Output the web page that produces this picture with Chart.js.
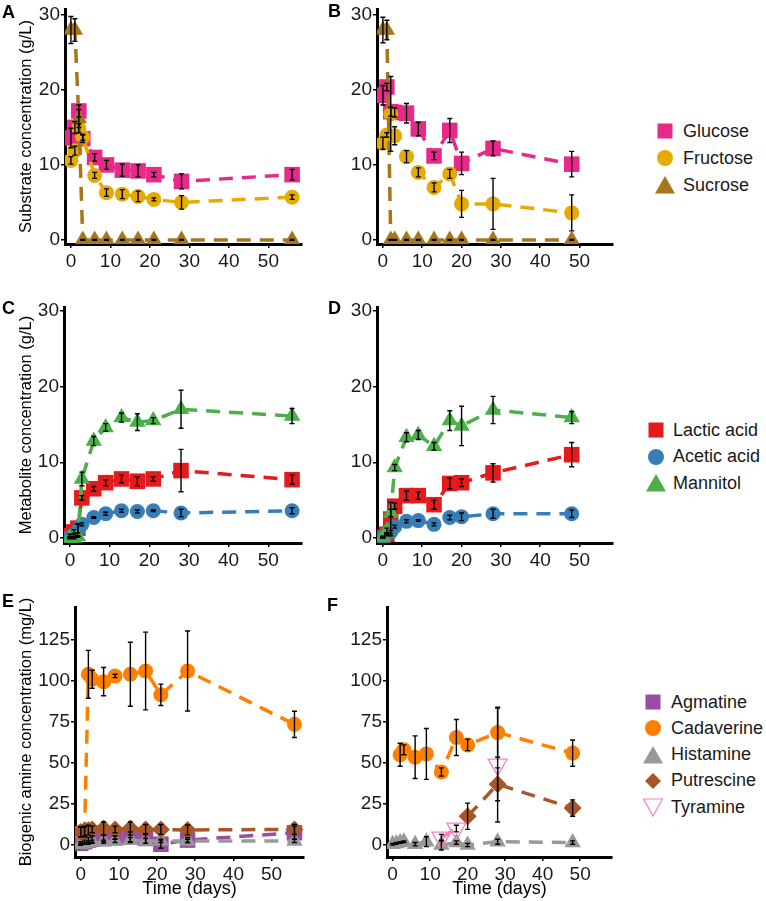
<!DOCTYPE html>
<html>
<head>
<meta charset="utf-8">
<script src="https://cdn.jsdelivr.net/npm/chart.js@4.4.0/dist/chart.umd.min.js"></script>
<style>
  body { margin: 0; background: #fff; width: 766px; height: 901px; position: relative; overflow: hidden;
         font-family: "Liberation Sans", Arial, sans-serif; }
  canvas { position: absolute; }
  .tag { position: absolute; font-weight: bold; font-size: 18px; line-height: 18px; color: #000; }
  .row { position: absolute; height: 22px; display: flex; align-items: center; font-size: 18px; color: #1a1a1a; white-space: nowrap; }
  .row svg { flex: none; }
</style>
</head>
<body>
<canvas id="chartA"></canvas>
<canvas id="chartB"></canvas>
<canvas id="chartC"></canvas>
<canvas id="chartD"></canvas>
<canvas id="chartE"></canvas>
<canvas id="chartF"></canvas>
<div class="tag" style="left:2px;top:3px">A</div>
<div class="tag" style="left:328px;top:2px">B</div>
<div class="tag" style="left:2px;top:299px">C</div>
<div class="tag" style="left:328px;top:299px">D</div>
<div class="tag" style="left:2px;top:592px">E</div>
<div class="tag" style="left:327px;top:596px">F</div>
<script>
// 샘플링 일자 (일)
const daysA = [0, 1, 2, 3, 6, 9, 13, 17, 21, 28, 56];
const daysB = [0, 1, 2, 3, 6, 9, 13, 17, 20, 28, 48];

// 눈금 라벨
const xTicks = [0, 10, 20, 30, 40, 50];
const yTicksGL = [0, 10, 20, 30];
const yTicksMg = [0, 25, 50, 75, 100, 125];

// A: 기질 농도 (g/L)
const glucoseA = [13.6, 15.0, 17.2, 13.5, 11.0, 10.0, 9.3, 9.2, 8.7, 7.8, 8.7];
const glucoseAErr = [1.3, 0.8, 0.8, 0.5, 0.5, 0.6, 0.8, 0.8, 0.3, 1.0, 0.7];
const fructoseA = [10.6, 11.9, 14.9, 13.7, 8.6, 6.3, 6.1, 5.8, 5.4, 5.0, 5.7];
const fructoseAErr = [0.5, 0.6, 0.6, 0.4, 0.4, 0.5, 0.6, 0.7, 0.2, 0.9, 0.3];
const sucroseA = [28.0, 28.0, 16.2, 0, 0, 0, 0, 0, 0, 0, 0];
const sucroseAErr = [1.8, 1.5, 1.2, 0.05, 0.05, 0.05, 0.05, 0.05, 0.05, 0.05, 0.05];

// B
const glucoseB = [19.3, 20.4, 17.1, 17.0, 16.9, 14.8, 11.2, 14.6, 10.2, 12.2, 10.1];
const glucoseBErr = [1.3, 0.5, 0.6, 0.6, 1.3, 0.9, 0.5, 1.6, 1.5, 1.0, 1.7];
const fructoseB = [12.9, 14.0, 16.8, 13.9, 11.1, 9.0, 7.0, 8.8, 4.8, 4.8, 3.6];
const fructoseBErr = [0.8, 0.3, 5.0, 1.2, 0.8, 0.6, 0.6, 0.6, 1.8, 3.4, 2.4];
const sucroseB = [28.0, 28.0, 0, 0, 0, 0, 0, 0, 0, 0, 0];
const sucroseBErr = [1.7, 1.3, 0.05, 0.05, 0.05, 0.05, 0.05, 0.05, 0.05, 0.05, 0.05];

// C: 대사산물 농도 (g/L)
const lacticC = [0.3, 0.8, 1.3, 5.3, 6.5, 7.3, 7.8, 7.5, 7.8, 8.9, 7.7];
const lacticCErr = [0.2, 0.3, 0.6, 0.3, 0.3, 0.4, 0.5, 0.6, 0.3, 2.8, 0.6];
const aceticC = [0.1, 0.4, 1.0, 1.8, 2.7, 3.2, 3.6, 3.5, 3.6, 3.3, 3.6];
const aceticCErr = [0.1, 0.2, 0.8, 0.2, 0.1, 0.2, 0.2, 0.2, 0.1, 0.5, 0.4];
const mannitolC = [0, 0, 0.2, 7.8, 12.8, 14.6, 15.9, 15.3, 15.5, 17.0, 16.1];
const mannitolCErr = [0.1, 0.1, 0.1, 0.9, 0.6, 0.5, 0.6, 1.1, 0.4, 2.5, 1.0];

// D
const lacticD = [0.1, 0.5, 2.5, 4.2, 5.6, 5.6, 4.4, 7.2, 7.3, 8.6, 11.0];
const lacticDErr = [0.1, 0.2, 2.2, 0.4, 0.6, 0.5, 0.6, 0.7, 0.5, 1.2, 1.6];
const aceticD = [0.1, 0.5, 0.8, 1.5, 2.2, 2.3, 1.8, 2.7, 2.8, 3.2, 3.2];
const aceticDErr = [0.1, 0.1, 0.2, 0.2, 0.2, 0.1, 0.2, 0.3, 0.5, 0.6, 0.5];
const mannitolD = [0.1, 1.0, 3.3, 9.3, 13.3, 13.6, 12.1, 15.5, 14.8, 16.9, 15.9];
const mannitolDErr = [0.1, 0.3, 0.5, 0.4, 0.6, 0.6, 0.5, 1.3, 2.6, 1.8, 0.8];

// E: 바이오제닉 아민 농도 (mg/L)
const agmatineE = [1, 2, 3, 3.5, 4, 4.5, 5, 4, 0.5, 3, 7.5];
const agmatineEErr = [1, 1, 1.5, 2, 2, 1, 3, 3, 2.5, 1.5, 4];
const cadaverineE = [8, 8, 104, 101, 99.5, 103, 104, 106, 91.5, 106, 73.5];
const cadaverineEErr = [3, 3, 14.6, 5.5, 8.6, 1, 19.5, 23.7, 6.5, 24.4, 8];
const histamineE = [0.5, 1, 1.5, 2, 2, 2.5, 3, 2.5, 2.5, 2.5, 2.5];
const histamineEErr = [0.5, 0.5, 1, 1, 1, 1, 1.5, 1.5, 1, 1, 1];
const putrescineE = [8, 8.5, 9, 9.5, 10, 9.5, 10, 9.5, 9.5, 9.2, 9.5];
const putrescineEErr = [3, 3, 3, 2, 4, 2, 4, 3, 3, 3, 3];
const tyramineE = [null, null, null, null, null, null, null, null, null, null, null];
const tyramineEErr = [null, null, null, null, null, null, null, null, null, null, null];

// F
const agmatineF = [null, null, null, null, null, null, null, null, null, null, null];
const agmatineFErr = [null, null, null, null, null, null, null, null, null, null, null];
const cadaverineF = [null, null, 55, 58, 53.5, 55.5, 44.5, 65.5, 61, 68.5, 56];
const cadaverineFErr = [null, null, 7, 3, 13, 15.5, 2.5, 11, 3.5, 15, 8];
const histamineF = [0.5, 1, 1.5, 2, 0.5, 2, 0, 1.5, 0, 2, 1.5];
const histamineFErr = [0.5, 0.5, 0.5, 0.5, 1, 3, 3, 1, 1, 1.5, 1];
const putrescineF = [null, null, null, null, null, null, null, null, 17.5, 37, 22.5];
const putrescineFErr = [null, null, null, null, null, null, null, null, 8, 10, 5];
const tyramineF = [null, null, null, null, null, null, 4.5, 10, null, 49, null];
const tyramineFErr = [null, null, null, null, null, null, 2, 2, null, 35, null];

// 시리즈 스타일
const styles = {
  Glucose: { color: '#E7298A', shape: 'square' },
  Fructose: { color: '#E6AB02', shape: 'circle' },
  Sucrose: { color: '#A6761D', shape: 'triangle' },
  'Lactic acid': { color: '#E41A1C', shape: 'square' },
  'Acetic acid': { color: '#377EB8', shape: 'circle' },
  Mannitol: { color: '#4DAF4A', shape: 'triangle' },
  Agmatine: { color: '#984EA3', shape: 'square' },
  Cadaverine: { color: '#FF7F00', shape: 'circle' },
  Histamine: { color: '#999999', shape: 'triangle' },
  Putrescine: { color: '#A65628', shape: 'diamond' },
  Tyramine: { color: '#F781BF', shape: 'invTriangle' }
};

const pointSpec = {
  square: { pointStyle: 'rect', radius: 11, rotation: 0 },
  circle: { pointStyle: 'circle', radius: 7.5, rotation: 0 },
  triangle: { pointStyle: 'triangle', radius: 9.5, rotation: 0 },
  diamond: { pointStyle: 'rectRot', radius: 9, rotation: 0 },
  invTriangle: { pointStyle: 'triangle', radius: 11, rotation: 180 }
};

const FONT = 'Liberation Sans, Arial, sans-serif';

// 에러바 플러그인 (스케일로 픽셀 계산)
const errorBarPlugin = {
  id: 'errorBars',
  afterDatasetsDraw(chart) {
    const { ctx, chartArea, scales } = chart;
    ctx.save();
    ctx.beginPath();
    ctx.rect(chartArea.left, chartArea.top, chartArea.right - chartArea.left, chartArea.bottom - chartArea.top);
    ctx.clip();
    ctx.strokeStyle = '#000';
    ctx.lineWidth = 1.4;
    chart.data.datasets.forEach(ds => {
      if (!ds.errors) return;
      ds.data.forEach((p, j) => {
        const e = ds.errors[j];
        if (p.y == null || e == null) return;
        const x = scales.x.getPixelForValue(p.x);
        const y1 = scales.y.getPixelForValue(p.y - e);
        const y2 = scales.y.getPixelForValue(p.y + e);
        ctx.beginPath();
        ctx.moveTo(x, y1); ctx.lineTo(x, y2);
        ctx.moveTo(x - 2.5, y1); ctx.lineTo(x + 2.5, y1);
        ctx.moveTo(x - 2.5, y2); ctx.lineTo(x + 2.5, y2);
        ctx.stroke();
      });
    });
    ctx.restore();
  }
};

function makeDataset(label, days, values, errors, order) {
  const st = styles[label];
  const ps = pointSpec[st.shape];
  const hollow = st.shape === 'invTriangle';
  return {
    label: label,
    data: days.map((d, i) => ({ x: d, y: values[i] })),
    errors: errors,
    order: order,
    borderColor: st.color,
    borderWidth: 3.5,
    borderDash: [14, 9],
    spanGaps: false,
    tension: 0,
    pointStyle: ps.pointStyle,
    pointRadius: ps.radius,
    pointRotation: ps.rotation,
    pointBackgroundColor: hollow ? 'rgba(0,0,0,0)' : st.color,
    pointBorderColor: st.color,
    pointBorderWidth: hollow ? 1.3 : 0
  };
}

function makePanel(canvasId, geo, datasets, yMin, yMax, yTicks, yTitle, xTitle) {
  const canvas = document.getElementById(canvasId);
  const padTop = 14, padRight = 14;
  const left = geo.l - geo.axW, top = geo.t - padTop;
  const w = geo.r - left + padRight, h = geo.b - top + geo.axH;
  canvas.style.left = left + 'px';
  canvas.style.top = top + 'px';
  canvas.width = w; canvas.height = h;
  canvas.style.width = w + 'px'; canvas.style.height = h + 'px';

  const axisCommon = {
    grid: { display: true, drawOnChartArea: false, drawTicks: true, tickLength: 4, color: '#000', lineWidth: 1.5 },
    border: { display: true, color: '#000', width: 3 }
  };

  new Chart(canvas, {
    type: 'line',
    data: { datasets: datasets },
    options: {
      responsive: false,
      animation: false,
      layout: { padding: { top: padTop, right: padRight, left: 0, bottom: 0 } },
      plugins: { legend: { display: false }, tooltip: { enabled: false } },
      scales: {
        x: Object.assign({}, axisCommon, {
          type: 'linear',
          min: -1.5,
          max: 58.5,
          afterBuildTicks: s => { s.ticks = xTicks.map(v => ({ value: v })); },
          afterFit: s => { s.height = geo.axH; },
          ticks: { autoSkip: false, maxRotation: 0, padding: 2, color: '#1a1a1a', font: { family: FONT, size: 19 } },
          title: { display: !!xTitle, text: xTitle || '', color: '#000', padding: { top: 0, bottom: 0 }, font: { family: FONT, size: 18 } }
        }),
        y: Object.assign({}, axisCommon, {
          type: 'linear',
          min: yMin,
          max: yMax,
          afterBuildTicks: s => { s.ticks = yTicks.map(v => ({ value: v })); },
          afterFit: s => { s.width = geo.axW; },
          ticks: { autoSkip: false, padding: 1, color: '#1a1a1a', font: { family: FONT, size: 19 } },
          title: { display: !!yTitle, text: yTitle || '', color: '#000', padding: { top: 17, bottom: 0 }, font: { family: FONT, size: 16.5 } }
        })
      }
    },
    plugins: [errorBarPlugin]
  });
}

// 패널 A, B
makePanel('chartA', { l: 65, r: 302, t: 9, b: 244, axW: 65, axH: 30 }, [
  makeDataset('Glucose', daysA, glucoseA, glucoseAErr, 3),
  makeDataset('Fructose', daysA, fructoseA, fructoseAErr, 2),
  makeDataset('Sucrose', daysA, sucroseA, sucroseAErr, 1)
], -0.55, 30.8, yTicksGL, 'Substrate concentration (g/L)', null);

makePanel('chartB', { l: 377, r: 613, t: 9, b: 244, axW: 45, axH: 30 }, [
  makeDataset('Glucose', daysB, glucoseB, glucoseBErr, 3),
  makeDataset('Fructose', daysB, fructoseB, fructoseBErr, 2),
  makeDataset('Sucrose', daysB, sucroseB, sucroseBErr, 1)
], -0.55, 30.8, yTicksGL, null, null);

// 패널 C, D
makePanel('chartC', { l: 64, r: 302, t: 307, b: 543, axW: 64, axH: 30 }, [
  makeDataset('Lactic acid', daysA, lacticC, lacticCErr, 3),
  makeDataset('Acetic acid', daysA, aceticC, aceticCErr, 2),
  makeDataset('Mannitol', daysA, mannitolC, mannitolCErr, 1)
], -0.66, 30.5, yTicksGL, 'Metabolite concentration (g/L)', null);

makePanel('chartD', { l: 377, r: 613, t: 307, b: 543, axW: 45, axH: 30 }, [
  makeDataset('Lactic acid', daysB, lacticD, lacticDErr, 3),
  makeDataset('Acetic acid', daysB, aceticD, aceticDErr, 2),
  makeDataset('Mannitol', daysB, mannitolD, mannitolDErr, 1)
], -0.66, 30.5, yTicksGL, null, null);

// 패널 E, F
makePanel('chartE', { l: 75, r: 304, t: 607, b: 857, axW: 75, axH: 43 }, [
  makeDataset('Agmatine', daysA, agmatineE, agmatineEErr, 5),
  makeDataset('Cadaverine', daysA, cadaverineE, cadaverineEErr, 4),
  makeDataset('Histamine', daysA, histamineE, histamineEErr, 3),
  makeDataset('Putrescine', daysA, putrescineE, putrescineEErr, 2),
  makeDataset('Tyramine', daysA, tyramineE, tyramineEErr, 1)
], -7.3, 145, yTicksMg, 'Biogenic amine concentration (mg/L)', 'Time (days)');

makePanel('chartF', { l: 387, r: 612, t: 607, b: 857, axW: 55, axH: 43 }, [
  makeDataset('Agmatine', daysB, agmatineF, agmatineFErr, 5),
  makeDataset('Cadaverine', daysB, cadaverineF, cadaverineFErr, 4),
  makeDataset('Histamine', daysB, histamineF, histamineFErr, 3),
  makeDataset('Putrescine', daysB, putrescineF, putrescineFErr, 2),
  makeDataset('Tyramine', daysB, tyramineF, tyramineFErr, 1)
], -7.3, 145, yTicksMg, null, 'Time (days)');

// 범례 (HTML)
function markerSvg(shape, color) {
  let inner = '';
  if (shape === 'square') inner = `<rect x="3.5" y="3.5" width="15" height="15" fill="${color}"/>`;
  if (shape === 'circle') inner = `<circle cx="11" cy="11" r="8" fill="${color}"/>`;
  if (shape === 'triangle') inner = `<polygon points="11,2 21,19.5 1,19.5" fill="${color}"/>`;
  if (shape === 'diamond') inner = `<polygon points="11,3 19,11 11,19 3,11" fill="${color}"/>`;
  if (shape === 'invTriangle') inner = `<polygon points="1.5,3 20.5,3 11,20" fill="none" stroke="${color}" stroke-width="1.2"/>`;
  return `<svg width="22" height="22">${inner}</svg>`;
}

function makeLegend(names, markerX, textX, firstY, step) {
  names.forEach((name, i) => {
    const st = styles[name];
    const row = document.createElement('div');
    row.className = 'row';
    row.style.left = (markerX - 11) + 'px';
    row.style.top = (firstY + i * step - 11) + 'px';
    row.innerHTML = markerSvg(st.shape, st.color) +
      `<span style="margin-left:${textX - markerX - 11}px">${name}</span>`;
    document.body.appendChild(row);
  });
}

makeLegend(['Glucose', 'Fructose', 'Sucrose'], 665, 683, 131, 27);
makeLegend(['Lactic acid', 'Acetic acid', 'Mannitol'], 656, 673, 430, 26.7);
makeLegend(['Agmatine', 'Cadaverine', 'Histamine', 'Putrescine', 'Tyramine'], 653, 671, 702, 26.3);
</script>
</body>
</html>
